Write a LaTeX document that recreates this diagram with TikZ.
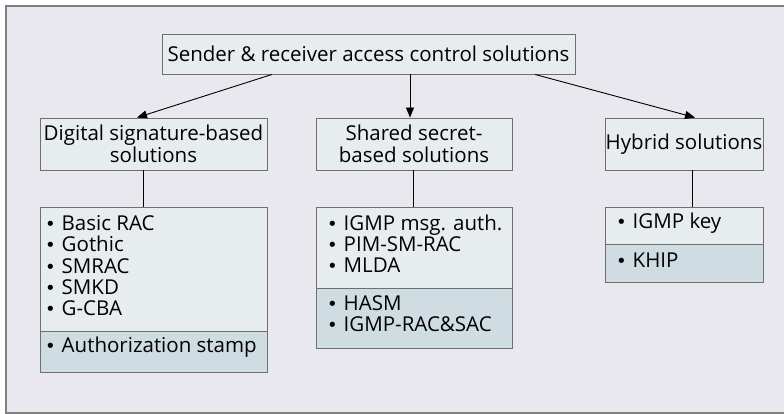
\documentclass[tikz,border=0pt]{standalone}
\usepackage{fontspec}
\setmainfont{Open Sans}
\newfontfamily\bulletfont{DejaVu Sans}
\usetikzlibrary{arrows.meta}
\definecolor{panel}{HTML}{E9E8EF}
\definecolor{frame}{HTML}{7F7F7F}
\definecolor{boxlight}{HTML}{E7EDEF}
\definecolor{boxdark}{HTML}{CFDCE1}
\definecolor{boxline}{HTML}{6F6F6F}
\tikzset{
  box/.style={draw=boxline, line width=0.9pt, fill=boxlight, inner sep=0pt,
    align=center, font=\fontsize{20.5}{21.5}\selectfont},
  part/.style={draw=boxline, line width=0.9pt, inner sep=0pt},
  items/.style={inner sep=0pt, anchor=base west,
    font=\fontsize{20.5}{21.3}\selectfont},
  tree/.style={line width=0.9pt},
  arr/.style={tree, -{Triangle[length=10pt,width=8pt]}}
}
% bullet list set as a top-aligned column, so the node's baseline is the first line's
\newcommand{\itm}[1]{\makebox[16.5pt][l]{{\bulletfont\fontsize{18}{18}\selectfont •}}#1}
\newcommand{\itemcol}[1]{\renewcommand{\arraystretch}{1}\begin{tabular}[t]{@{}l@{}}#1\end{tabular}}
\begin{document}
\begin{tikzpicture}[x=1pt,y=-1pt]
\useasboundingbox (0,0) rectangle (784,414);
% panel
\fill[white] (0,0) rectangle (784,414);
\fill[panel] (6,6) rectangle (784,413);
\draw[frame, line width=1.4pt] (784,6) -- (6,6) -- (6,413) -- (784,413);

% headings
\node[box, minimum width=413pt, minimum height=40pt] (top) at (368.5,54)
  {Sender \& receiver access control solutions};
\node[box, minimum width=227pt, minimum height=52pt] (dig) at (153.5,144)
  {Digital signature-based\\solutions};
\node[box, minimum width=196pt, minimum height=52pt] (sh) at (414,144)
  {Shared secret-\\based solutions};
\node[box, minimum width=158pt, minimum height=52pt] (hy) at (684,144)
  {Hybrid solutions};

% list panels
\node[part, fill=boxlight, minimum width=227pt, minimum height=124pt] (dA) at (153.5,269) {};
\node[part, fill=boxdark, minimum width=227pt, minimum height=41pt] (dB) at (153.5,351.5) {};
\node[part, fill=boxlight, minimum width=196pt, minimum height=81pt] (sA) at (414,247.5) {};
\node[part, fill=boxdark, minimum width=196pt, minimum height=60pt] (sB) at (414,318) {};
\node[part, fill=boxlight, minimum width=158pt, minimum height=37pt] (hA) at (684,225.5) {};
\node[part, fill=boxdark, minimum width=158pt, minimum height=38pt] (hB) at (684,263) {};

\node[items] (dAt) at (45,230) {\itemcol{\itm{Basic RAC}\\\itm{Gothic}\\\itm{SMRAC}\\\itm{SMKD}\\\itm{G-CBA}}};
\node[items] (dBt) at (45,352) {\itm{Authorization stamp}};
\node[items] (sAt) at (327,230) {\itemcol{\itm{IGMP msg. auth.}\\\itm{PIM-SM-RAC}\\\itm{MLDA}}};
\node[items] (sBt) at (327,310) {\itemcol{\itm{HASM}\\\itm{IGMP-RAC\&SAC}}};
\node[items] (hAt) at (616,229) {\itm{IGMP key}};
\node[items] (hBt) at (616,267) {\itm{KHIP}};

% connectors
\draw[arr] ([xshift=-96.5pt]top.south) -- ([xshift=-16.5pt]dig.north);
\draw[arr] ([xshift=41.5pt]top.south) -- ([xshift=-4pt]sh.north);
\draw[arr] ([xshift=166.5pt]top.south) -- ([xshift=11pt]hy.north);
\draw[tree] ([xshift=-10.5pt]dig.south) -- ([xshift=-10.5pt]dA.north);
\draw[tree] ([xshift=-1pt]sh.south) -- ([xshift=-1pt]sA.north);
\draw[tree] ([xshift=8pt]hy.south) -- ([xshift=8pt]hA.north);
\end{tikzpicture}
\end{document}
